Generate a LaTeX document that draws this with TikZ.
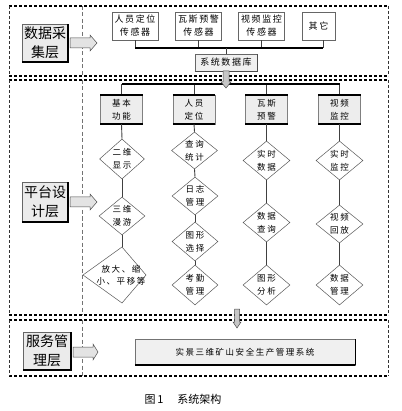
\documentclass[tikz,border=0pt]{standalone}
\usepackage{fontspec}
\newfontfamily\cjk{Noto Sans CJK SC}
\newfontfamily\cjks[LetterSpace=18]{Noto Sans CJK SC}
\usetikzlibrary{shapes.geometric}
\begin{document}
\begin{tikzpicture}[x=1pt,y=-1pt,
  hdash/.style={line width=1.3pt, dash pattern=on 3pt off 2pt},
  vdash/.style={line width=0.7pt, black!80, dash pattern=on 3pt off 2pt},
  divdash/.style={line width=0.5pt, black!55, dash pattern=on 4pt off 2.5pt},
  lbl/.style={draw=black!60, fill=gray!16, inner sep=0, align=center,
    font=\cjk\fontsize{14}{19}\selectfont},
  sens/.style={draw=black!60, fill=white, inner sep=0, align=center,
    minimum width=46pt, minimum height=28pt, font=\cjks\fontsize{9}{13}\selectfont},
  hdr/.style={draw=black!50, fill=gray!14, inner sep=0, align=center,
    minimum width=42pt, minimum height=29pt, font=\cjks\fontsize{8.5}{13}\selectfont},
  dia/.style={shape=diamond, draw=black!65, line width=0.5pt, fill=white,
    inner sep=0, minimum width=46pt, minimum height=39pt},
  dtxt/.style={align=center, inner sep=0, font=\cjks\fontsize{8.5}{13}\selectfont},
  conn/.style={line width=0.9pt, black!75},
  bus/.style={line width=2pt, black},
  barrow/.style={draw=black!70, fill=gray!22, line width=0.5pt},
  garrow/.style={draw=black!70, fill=gray!45, line width=0.5pt}
]
\useasboundingbox (0,0) rectangle (401,411);

% ---------- section frames ----------
\foreach \ya/\yb in {6/76, 80/315, 320/376}{
  \draw[hdash] (9,\ya) -- (388,\ya);
  \draw[hdash] (9,\yb) -- (388,\yb);
  \draw[vdash] (9,\ya) -- (9,\yb);
  \draw[vdash] (388,\ya) -- (388,\yb);
  \draw[divdash] (82,\ya) -- (82,\yb);
}

% ---------- layer labels ----------
\node[lbl, minimum width=46pt, minimum height=38pt] (L1) at (45,43) {数据采\\集层};
\node[lbl, minimum width=46pt, minimum height=40pt] (L2) at (45,202) {平台设\\计层};
\node[lbl, minimum width=48pt, minimum height=38pt] (L3) at (47,351) {服务管\\理层};
\foreach \n in {L1,L2,L3}{
  \draw[line width=1.6pt] (\n.south west) -- (\n.south east) -- (\n.north east);
}

% ---------- block arrows ----------
\foreach \xa/\xh/\xb/\yc in {70/90/97/43, 70/90/97/202, 73/93/98/352}{
  \draw[barrow] (\xa,\yc-5) -- (\xh,\yc-5) -- (\xh,\yc-8) -- (\xb,\yc)
    -- (\xh,\yc+8) -- (\xh,\yc+5) -- (\xa,\yc+5) -- cycle;
}

% ---------- data layer ----------
\node[sens] (s1) at (135,26) {人员定位\\传感器};
\node[sens] (s2) at (198.5,26) {瓦斯预警\\传感器};
\node[sens] (s3) at (261.5,26) {视频监控\\传感器};
\node[sens, minimum width=33pt] (s4) at (318.5,26) {其它};
\coordinate (busL) at (135,48);
\coordinate (busR) at (323,48);
\coordinate (busM) at (226,48);
\draw[conn] (s1.south) -- (s1.south |- busL);
\draw[conn] (s2.south) -- (s2.south |- busL);
\draw[conn] (s3.south) -- (s3.south |- busL);
\draw[conn] (s4.south -| busR) -- (busR);
\draw[bus] (busL) -- (busR);
\node[draw=black!60, fill=gray!12, inner sep=0, minimum width=62pt, minimum height=17pt,
  font=\cjks\fontsize{9}{13}\selectfont] (db) at (226,62.5) {系统数据库};
\draw[line width=1pt, black!70] (db.south west) -- (db.south east) -- (db.north east);
\draw[conn] (busM) -- (db.north);

% ---------- platform layer ----------
\coordinate (mbL) at (122,84);
\coordinate (mbR) at (339.5,84);
\node[hdr] (h1) at (121.5,109.5) {基本\\功能};
\node[hdr] (h2) at (194,109.5) {人员\\定位};
\node[hdr] (h3) at (266.5,109.5) {瓦斯\\预警};
\node[hdr] (h4) at (339.5,109.5) {视频\\监控};
\foreach \n in {h1,h2,h3,h4}{
  \draw[conn] (\n.north) -- (\n.north |- mbL);
  \draw[line width=1.7pt] (\n.north west) -- (\n.north east);
  \draw[line width=1.7pt] (\n.south west) -- (\n.south east);
}
\draw[bus] (mbL) -- (mbR);
% gray arrow from database
\draw[garrow] (223,71) -- (229,71) -- (229,82) -- (231,82) -- (226,88) -- (221,82) -- (223,82) -- cycle;

% column 1
\node[dia, minimum width=45pt, minimum height=40pt, label={[dtxt]center:二维\\显示}] (d11) at (122,159) {};
\node[dia, minimum width=46pt, minimum height=38pt, label={[dtxt]center:三维\\漫游}] (d12) at (122,216) {};
\coordinate (kt) at (122,247);
\coordinate (kr) at (146,275);
\coordinate (kb) at (122,303);
\coordinate (kl) at (83,275);
\draw[draw=black!65, line width=0.5pt, fill=white] (kt) -- (kr) -- (kb) -- (kl) -- cycle;
\node[dtxt, font=\cjks\fontsize{8.5}{12}\selectfont] (k) at (121,275) {放大、缩\\小、平移等};
\draw[conn] (h1.south) -- (d11.north);
\draw[conn] (d11.south) -- (d12.north);
\draw[conn] (d12.south) -- (kt);

% column 2
\node[dia, minimum height=37pt, label={[dtxt]center:查询\\统计}] (d21) at (194.5,150.5) {};
\node[dia, minimum height=38pt, label={[dtxt]center:日志\\管理}] (d22) at (195,196) {};
\node[dia, minimum height=39pt, label={[dtxt]center:图形\\选择}] (d23) at (195,241.5) {};
\node[dia, minimum height=40pt, label={[dtxt]center:考勤\\管理}] (d24) at (195,285) {};
\draw[conn] (h2.south) -- (d21.north);
\draw[conn] (d21.south) -- (d22.north);
\draw[conn] (d22.south) -- (d23.north);
\draw[conn] (d23.south) -- (d24.north);

% column 3
\node[dia, minimum width=47pt, label={[dtxt]center:实时\\数据}] (d31) at (266.5,160.5) {};
\node[dia, minimum width=47pt, label={[dtxt]center:数据\\查询}] (d32) at (266.5,222.5) {};
\node[dia, minimum width=47pt, minimum height=40pt, label={[dtxt]center:图形\\分析}] (d33) at (266.5,285) {};
\draw[conn] (h3.south) -- (d31.north);
\draw[conn] (d31.south) -- (d32.north);
\draw[conn] (d32.south) -- (d33.north);

% column 4
\node[dia, minimum width=47pt, label={[dtxt]center:实时\\监控}] (d41) at (339.5,160.5) {};
\node[dia, minimum width=47pt, minimum height=38pt, label={[dtxt]center:视频\\回放}] (d42) at (339.5,224) {};
\node[dia, minimum width=47pt, minimum height=40pt, label={[dtxt]center:数据\\管理}] (d43) at (339.5,285) {};
\draw[conn] (h4.south) -- (d41.north);
\draw[conn] (d41.south) -- (d42.north);
\draw[conn] (d42.south) -- (d43.north);

% gray arrow between platform and service layers
\draw[garrow] (234.5,309) -- (239.5,309) -- (239.5,322) -- (241,322) -- (237,328) -- (233,322) -- (234.5,322) -- cycle;

% ---------- service layer ----------
\node[draw=black!55, fill=gray!12, inner sep=0, minimum width=220pt, minimum height=26pt,
  font=\cjks\fontsize{8.5}{12}\selectfont] (sys) at (245,352) {实景三维矿山安全生产管理系统};
\draw[line width=1.6pt] (sys.south west) -- (sys.south east);
\draw[line width=0.8pt] (sys.south east) -- (sys.north east);

% ---------- caption ----------
\node[font=\cjk\fontsize{11}{13}\selectfont, inner sep=0] (cap) at (183,399) {图\,1\hspace{14pt}系统架构};
\end{tikzpicture}
\end{document}
